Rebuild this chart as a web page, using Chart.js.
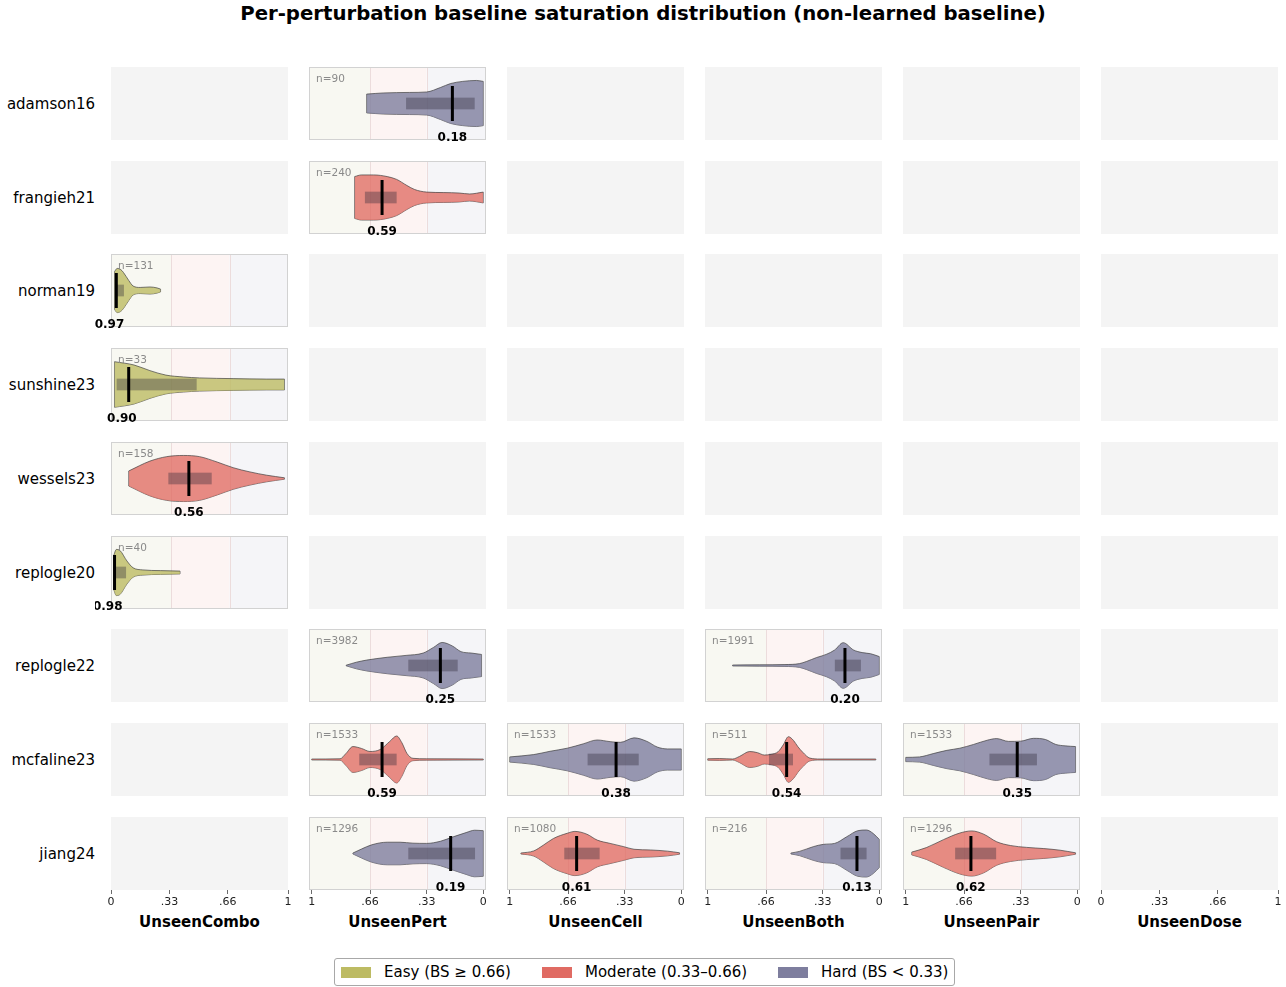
<!DOCTYPE html>
<html>
<head>
<meta charset="utf-8">
<script src="https://cdn.jsdelivr.net/npm/chart.js@4.4.0/dist/chart.umd.min.js"></script>
<style>
body{margin:0;background:#fff;font-family:'DejaVu Sans',sans-serif;}
#page{position:relative;width:1286px;height:987px;overflow:hidden;}
.txt{position:absolute;white-space:nowrap;color:#000;}
</style>
</head>
<body>
<div id="page"></div>
<script>
// ---- data ----
var ROWS = ['adamson16','frangieh21','norman19','sunshine23','wessels23','replogle20','replogle22','mcfaline23','jiang24'];
var SPLITS = ['UnseenCombo','UnseenPert','UnseenCell','UnseenBoth','UnseenPair','UnseenDose'];
var TIERS = ['Easy (BS \u2265 0.66)','Moderate (0.33\u20130.66)','Hard (BS < 0.33)'];
var TICKS_REV = ['1','.66','.33','0'];
var TICKS_FWD = ['0','.33','.66','1'];

// one entry per violin
var vDataset = ['adamson16','frangieh21','norman19','sunshine23','wessels23','replogle20','replogle22','replogle22',
                'mcfaline23','mcfaline23','mcfaline23','mcfaline23','jiang24','jiang24','jiang24','jiang24'];
var vSplit = ['UnseenPert','UnseenPert','UnseenCombo','UnseenCombo','UnseenCombo','UnseenCombo','UnseenPert','UnseenBoth',
              'UnseenPert','UnseenCell','UnseenBoth','UnseenPair','UnseenPert','UnseenCell','UnseenBoth','UnseenPair'];
var vN = [90,240,131,33,158,40,3982,1991,1533,1533,511,1533,1296,1080,216,1296];
var vMedian = [0.18,0.59,0.97,0.90,0.56,0.98,0.25,0.20,0.59,0.38,0.54,0.35,0.19,0.61,0.13,0.62];
var vQ3 = [0.45,0.69,0.968,0.968,0.676,0.977,0.437,0.259,0.723,0.546,0.643,0.512,0.437,0.682,0.226,0.712];
var vQ1 = [0.05,0.505,0.927,0.516,0.431,0.915,0.149,0.107,0.505,0.248,0.503,0.235,0.048,0.476,0.074,0.473];
var vTier = [2,1,0,0,1,0,2,2,1,2,1,2,2,1,2,1]; // 0 easy, 1 moderate, 2 hard

// violin outlines: baseline saturation values and relative density (1 = widest)
var vBS = [
  [0.68,0.58,0.43,0.33,0.25,0.19,0.12,0.04,0.0],
  [0.75,0.71,0.64,0.56,0.505,0.445,0.40,0.33,0.23,0.14,0.08,0.0],
  [0.98,0.965,0.945,0.93,0.90,0.875,0.835,0.78,0.74,0.72],
  [0.98,0.87,0.78,0.69,0.59,0.50,0.31,0.12,0.02],
  [0.90,0.78,0.685,0.59,0.50,0.40,0.31,0.215,0.12,0.02],
  [0.985,0.97,0.95,0.91,0.875,0.82,0.72,0.61],
  [0.80,0.74,0.68,0.56,0.45,0.35,0.29,0.24,0.18,0.13,0.07,0.01],
  [0.855,0.70,0.55,0.465,0.425,0.365,0.31,0.26,0.21,0.15,0.10,0.05,0.0],
  [1.0,0.835,0.80,0.76,0.71,0.66,0.60,0.545,0.505,0.475,0.445,0.41,0.33,0.0],
  [1.0,0.86,0.765,0.665,0.57,0.49,0.415,0.355,0.275,0.20,0.14,0.08,0.0],
  [1.0,0.93,0.855,0.815,0.755,0.71,0.67,0.63,0.59,0.56,0.53,0.50,0.475,0.445,0.405,0.345,0.02],
  [1.0,0.92,0.84,0.76,0.685,0.605,0.525,0.47,0.40,0.33,0.255,0.185,0.125,0.07,0.01],
  [0.76,0.71,0.65,0.56,0.485,0.41,0.33,0.25,0.175,0.10,0.05,0.0],
  [0.935,0.86,0.805,0.745,0.665,0.62,0.55,0.49,0.415,0.335,0.275,0.18,0.08,0.01],
  [0.515,0.465,0.385,0.325,0.26,0.19,0.125,0.075,0.035,0.0],
  [0.965,0.88,0.78,0.685,0.615,0.545,0.47,0.39,0.295,0.195,0.10,0.01]
];
var vDens = [
  [0.40,0.45,0.47,0.49,0.68,0.85,0.94,0.98,0.94],
  [0.89,0.96,0.96,0.89,0.77,0.51,0.34,0.23,0.21,0.19,0.15,0.23],
  [0.81,0.94,0.89,0.77,0.43,0.19,0.13,0.15,0.11,0.06],
  [0.97,0.83,0.59,0.40,0.32,0.28,0.25,0.23,0.23],
  [0.32,0.74,0.93,0.98,0.93,0.70,0.46,0.28,0.14,0.03],
  [0.72,0.98,0.94,0.49,0.20,0.11,0.08,0.06],
  [0.01,0.14,0.23,0.35,0.43,0.53,0.77,0.98,0.83,0.59,0.53,0.47],
  [0.02,0.03,0.04,0.08,0.17,0.34,0.47,0.66,0.97,0.66,0.55,0.50,0.38],
  [0.02,0.03,0.26,0.55,0.47,0.34,0.43,0.77,1.0,0.72,0.26,0.05,0.03,0.02],
  [0.11,0.21,0.35,0.48,0.67,0.83,0.76,0.73,0.92,0.77,0.53,0.45,0.45],
  [0.03,0.04,0.02,0.13,0.34,0.29,0.19,0.22,0.33,0.62,0.97,0.81,0.55,0.30,0.06,0.02,0.02],
  [0.09,0.11,0.25,0.39,0.48,0.64,0.82,0.89,0.77,0.78,0.90,0.85,0.64,0.58,0.55],
  [0.02,0.19,0.37,0.48,0.48,0.44,0.43,0.52,0.71,0.89,0.99,0.97],
  [0.02,0.11,0.35,0.64,0.86,0.94,0.82,0.57,0.43,0.29,0.18,0.15,0.10,0.03],
  [0.02,0.09,0.29,0.39,0.43,0.71,0.97,1.0,0.85,0.60],
  [0.06,0.25,0.59,0.87,0.96,0.82,0.50,0.34,0.26,0.21,0.14,0.03]
];

// ---- layout / style ----
var COL_X = [111, 309, 507, 705, 903, 1101];
var ROW_Y = [67, 161, 254, 348, 442, 536, 629, 723, 817];
var PW = 177, PH = 73, PAD = 16, AXIS_H = 30;
var FONT = "'DejaVu Sans', sans-serif";
var WMAX = 0.644;
var TIER_SWATCH = ['#bdbb63','#e06b63','#7e7e9e'];
var TIER_FILL = ['rgba(189,187,99,0.8)','rgba(224,107,99,0.78)','rgba(126,126,158,0.8)'];
var BANDS = ['#f8f8f2','#fdf4f3','#f5f5f8'];

var page = document.getElementById('page');

function addText(txt, css) {
  var d = document.createElement('div');
  d.className = 'txt';
  d.textContent = txt;
  d.style.cssText += css;
  page.appendChild(d);
  return d;
}

function axisFor(c) {
  if (c === 5) return {min: 0, max: 1, reverse: false, ticks: [0, 0.33, 0.66, 1], labels: TICKS_FWD};
  if (c === 0) return {min: 0, max: 1, reverse: true, ticks: [1, 0.67, 0.34, 0], labels: TICKS_FWD};
  return {min: -0.016, max: 1.016, reverse: true, ticks: [1, 0.66, 0.33, 0], labels: TICKS_REV};
}

var panelPlugin = {
  id: 'panel',
  beforeDraw: function(chart, args, opts) {
    var ctx = chart.ctx, a = chart.chartArea, x = chart.scales.x;
    ctx.save();
    if (opts.vi < 0) {
      ctx.fillStyle = '#f4f4f4';
      ctx.fillRect(a.left, a.top, a.right - a.left, a.bottom - a.top);
    } else {
      var p66 = x.getPixelForValue(0.66), p33 = x.getPixelForValue(0.33);
      ctx.fillStyle = BANDS[0]; ctx.fillRect(a.left, a.top, p66 - a.left, a.bottom - a.top);
      ctx.fillStyle = BANDS[1]; ctx.fillRect(p66, a.top, p33 - p66, a.bottom - a.top);
      ctx.fillStyle = BANDS[2]; ctx.fillRect(p33, a.top, a.right - p33, a.bottom - a.top);
      ctx.strokeStyle = '#ecdcdc'; ctx.lineWidth = 1;
      [p66, p33].forEach(function(p) {
        ctx.beginPath(); ctx.moveTo(Math.round(p) + 0.5, a.top); ctx.lineTo(Math.round(p) + 0.5, a.bottom); ctx.stroke();
      });
      ctx.strokeStyle = '#d2d2d2';
      ctx.strokeRect(a.left + 0.5, a.top + 0.5, a.right - a.left - 1, a.bottom - a.top - 1);
    }
    ctx.restore();
  },
  afterDatasetsDraw: function(chart, args, opts) {
    var vi = opts.vi;
    if (vi < 0) return;
    var ctx = chart.ctx, a = chart.chartArea, x = chart.scales.x, y = chart.scales.y;
    ctx.save();
    // IQR box
    var xa = x.getPixelForValue(vQ3[vi]), xb = x.getPixelForValue(vQ1[vi]);
    var ya = y.getPixelForValue(0.16), yb = y.getPixelForValue(-0.16);
    ctx.fillStyle = 'rgba(45,40,55,0.36)';
    ctx.fillRect(Math.min(xa, xb), ya, Math.abs(xb - xa), yb - ya);
    // median
    var xm = x.getPixelForValue(vMedian[vi]);
    ctx.strokeStyle = '#000'; ctx.lineWidth = 3;
    ctx.beginPath(); ctx.moveTo(xm, y.getPixelForValue(0.48)); ctx.lineTo(xm, y.getPixelForValue(-0.48)); ctx.stroke();
    ctx.fillStyle = '#000';
    ctx.font = 'bold 12px ' + FONT;
    ctx.textBaseline = 'middle';
    var lab = vMedian[vi].toFixed(2);
    if (xm - ctx.measureText(lab).width / 2 < a.left + 6) {
      ctx.textAlign = 'right'; ctx.fillText(lab, xm + 8, a.bottom - 2);
    } else {
      ctx.textAlign = 'center'; ctx.fillText(lab, xm, a.bottom - 2);
    }
    // n label
    ctx.font = '10.5px ' + FONT;
    ctx.fillStyle = '#8a8a8a';
    ctx.textAlign = 'left';
    ctx.fillText('n=' + vN[vi], a.left + 7, a.top + 12);
    ctx.restore();
  }
};

function violinDatasets(vi) {
  var bs = vBS[vi], d = vDens[vi], last = bs.length - 1;
  var base = {showLine: true, pointRadius: 0, borderColor: 'rgba(60,60,60,0.85)', borderWidth: 0.8};
  var top = bs.map(function(b, i) { return {x: b, y: d[i] * WMAX}; });
  var bot = bs.map(function(b, i) { return {x: b, y: -d[i] * WMAX}; });
  return [
    Object.assign({}, base, {data: top, fill: '+1', backgroundColor: TIER_FILL[vTier[vi]], cubicInterpolationMode: 'monotone'}),
    Object.assign({}, base, {data: bot, fill: false, cubicInterpolationMode: 'monotone'}),
    Object.assign({}, base, {data: [{x: bs[0], y: -d[0] * WMAX}, {x: bs[0], y: d[0] * WMAX}], fill: false}),
    Object.assign({}, base, {data: [{x: bs[last], y: -d[last] * WMAX}, {x: bs[last], y: d[last] * WMAX}], fill: false})
  ];
}

function makePanel(r, c, vi) {
  var isBottom = r === ROWS.length - 1;
  var ax = axisFor(c);
  var w = PW + 2 * PAD, h = PAD + PH + (isBottom ? AXIS_H : PAD);
  var cv = document.createElement('canvas');
  cv.width = w; cv.height = h;
  cv.style.cssText = 'position:absolute;left:' + (COL_X[c] - PAD) + 'px;top:' + (ROW_Y[r] - PAD) + 'px;width:' + w + 'px;height:' + h + 'px';
  page.appendChild(cv);
  new Chart(cv, {
    type: 'scatter',
    data: {datasets: vi < 0 ? [] : violinDatasets(vi)},
    options: {
      responsive: false,
      animation: false,
      events: [],
      layout: {padding: {left: PAD, right: PAD, top: PAD, bottom: isBottom ? 0 : PAD}},
      plugins: {legend: {display: false}, tooltip: {enabled: false}, panel: {vi: vi}},
      scales: {
        x: {
          type: 'linear', min: ax.min, max: ax.max, reverse: ax.reverse,
          display: isBottom,
          afterBuildTicks: function(s) { s.ticks = ax.ticks.map(function(v) { return {value: v}; }); },
          afterFit: function(s) {
            if (!isBottom) return;
            s.height = AXIS_H; s.paddingLeft = 0; s.paddingRight = 0;
          },
          ticks: {
            autoSkip: false, maxRotation: 0, padding: 2, color: '#222',
            font: {family: FONT, size: 11},
            callback: function(v, i) { return ax.labels[i]; }
          },
          grid: {drawOnChartArea: false, drawTicks: true, tickLength: 4, color: '#444', lineWidth: 0.8},
          border: {display: false}
        },
        y: {type: 'linear', min: -1, max: 1, display: false}
      }
    },
    plugins: [panelPlugin]
  });
}

// title
addText('Per-perturbation baseline saturation distribution (non-learned baseline)',
  'left:0;width:1286px;text-align:center;top:3px;font-weight:bold;font-size:19.7px;line-height:22px;');

// row labels
ROWS.forEach(function(name, r) {
  addText(name, 'right:' + (1286 - 95) + 'px;top:' + (ROW_Y[r] + PH / 2 - 10) + 'px;font-size:15px;line-height:20px;text-align:right;');
});

// column titles
SPLITS.forEach(function(name, c) {
  addText(name, 'left:' + (COL_X[c] - 20) + 'px;width:' + (PW + 40) + 'px;text-align:center;top:912px;font-weight:bold;font-size:15px;line-height:20px;');
});

// panels
ROWS.forEach(function(ds, r) {
  SPLITS.forEach(function(sp, c) {
    var vi = -1;
    for (var i = 0; i < vDataset.length; i++) if (vDataset[i] === ds && vSplit[i] === sp) vi = i;
    makePanel(r, c, vi);
  });
});

// legend
var leg = document.createElement('div');
leg.style.cssText = 'position:absolute;left:334px;top:958px;width:619px;height:26px;border:1px solid #a8a8a8;border-radius:3px;background:#fff;';
page.appendChild(leg);
var swX = [6, 207, 443];
TIERS.forEach(function(t, i) {
  var sw = document.createElement('div');
  sw.style.cssText = 'position:absolute;left:' + swX[i] + 'px;top:8px;width:30px;height:11px;background:' + TIER_SWATCH[i] + ';';
  leg.appendChild(sw);
  var tx = document.createElement('div');
  tx.className = 'txt';
  tx.textContent = t;
  tx.style.cssText += 'left:' + (swX[i] + 43) + 'px;top:3px;font-size:15px;line-height:20px;';
  leg.appendChild(tx);
});
</script>
</body>
</html>
